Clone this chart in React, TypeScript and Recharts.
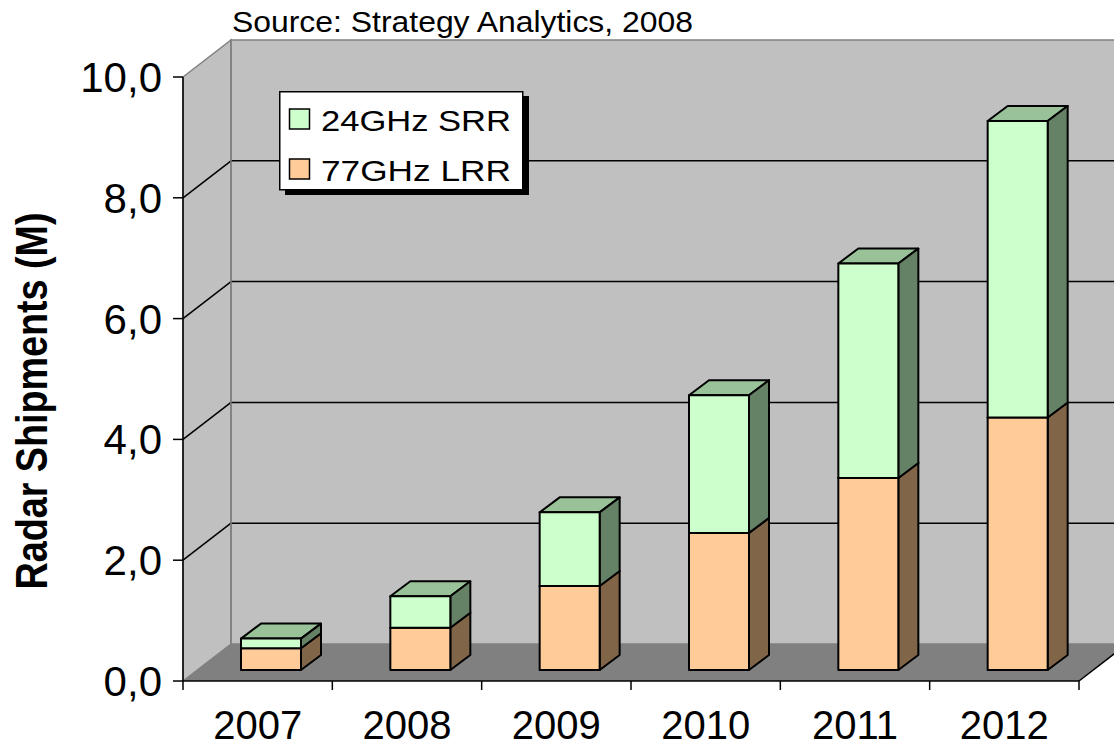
import * as R from 'recharts';
import { BarChart, Bar, XAxis, YAxis, Legend } from 'recharts';

const YEARS = ['2007', '2008', '2009', '2010', '2011', '2012'];
const LRR_77GHZ = [0.36, 0.7, 1.39, 2.27, 3.18, 4.18];
const SRR_24GHZ = [0.16, 0.52, 1.22, 2.28, 3.55, 4.91];
const Y_TICKS = [0, 2, 4, 6, 8, 10];

const SERIES = [
  { key: 'lrr', name: '77GHz LRR', front: '#ffcc99', top: '#cca37a', side: '#806548' },
  { key: 'srr', name: '24GHz SRR', front: '#ccffcc', top: '#99c299', side: '#668266' },
];

const data = YEARS.map((year, i) => ({ year, lrr: LRR_77GHZ[i], srr: SRR_24GHZ[i] }));

const FONT = '"Liberation Sans", Arial, Helvetica, sans-serif';
const W = 1114;
const H = 749;
const MARGIN = { top: 77, right: 35, bottom: 0, left: 0 };
const Y_AXIS_W = 183;
const X_AXIS_H = 68;

// fake 3d: back wall shifted up-right, bars sit a bit behind the front edge
const WALL_DX = 48;
const WALL_DY = -37;
const BAR_DX = 13;
const BAR_DY = -11;
const BOX_DX = 20;
const BOX_DY = -15;

const FALLBACK_PLOT = {
  x: MARGIN.left + Y_AXIS_W,
  y: MARGIN.top,
  width: W - MARGIN.left - Y_AXIS_W - MARGIN.right,
  height: H - MARGIN.top - MARGIN.bottom - X_AXIS_H,
};

function usePlotBox() {
  const lib = R as any;
  if (lib.usePlotArea) return lib.usePlotArea() ?? FALLBACK_PLOT;
  return FALLBACK_PLOT;
}

const pts = (a: number[][]) => a.map((p) => p.join(',')).join(' ');

function Walls() {
  const { x, y, width: w, height: h } = usePlotBox();
  const y0 = y + h;
  const perUnit = h / (Y_TICKS[Y_TICKS.length - 1] - Y_TICKS[0]);
  const bx = x + WALL_DX;
  const by = y + WALL_DY;
  const band = w / YEARS.length;

  return (
    <g>
      <text x={bx + 1} y={by - 8} fontSize={29} fontFamily={FONT} fill="#000" textLength={461} lengthAdjust="spacingAndGlyphs">
        Source: Strategy Analytics, 2008
      </text>
      <text
        transform={`translate(${x - 136}, ${y + h / 2 + 22}) rotate(-90)`}
        textAnchor="middle"
        fontSize={44}
        fontWeight="bold"
        fontFamily={FONT}
        fill="#000"
        textLength={377}
        lengthAdjust="spacingAndGlyphs"
      >
        Radar Shipments (M)
      </text>

      {/* left wall, back wall, floor */}
      <polygon points={pts([[x, y], [bx, by], [bx, y0 + WALL_DY], [x, y0]])} fill="#c0c0c0" stroke="#808080" strokeWidth={1.5} />
      <rect x={bx} y={by} width={w + 60} height={h} fill="#c0c0c0" stroke="#808080" strokeWidth={1.5} />
      <polygon points={pts([[x, y0], [x + w, y0], [x + w + WALL_DX, y0 + WALL_DY], [bx, y0 + WALL_DY]])} fill="#808080" />

      {Y_TICKS.slice(1, -1).map((t) => {
        const ty = y0 - t * perUnit;
        return (
          <g key={t} stroke="#000" strokeWidth={1.5}>
            <line x1={x} y1={ty} x2={bx} y2={ty + WALL_DY} />
            <line x1={bx} y1={ty + WALL_DY} x2={x + w + 100} y2={ty + WALL_DY} />
          </g>
        );
      })}
      <line x1={bx} y1={by} x2={bx} y2={y0 + WALL_DY} stroke="#808080" strokeWidth={1.5} />
      <line x1={x + w} y1={y0} x2={x + w + WALL_DX} y2={y0 + WALL_DY} stroke="#000" strokeWidth={1.5} />

      {YEARS.map((_, i) => (
        <line key={i} x1={x + i * band} y1={y0} x2={x + i * band} y2={y0 + 9} stroke="#000" strokeWidth={1.5} />
      ))}
      <line x1={x + w} y1={y0} x2={x + w} y2={y0 + 9} stroke="#000" strokeWidth={1.5} />
    </g>
  );
}

function Box3D(props: any) {
  const { x, y, width, height, c } = props;
  if (height == null || isNaN(height)) return null;
  const L = x + BAR_DX;
  const Rx = x + width + BAR_DX;
  const T = y + BAR_DY;
  const B = y + height + BAR_DY;
  return (
    <g stroke="#000" strokeWidth={2} strokeLinejoin="round">
      <polygon points={pts([[L, T], [Rx, T], [Rx + BOX_DX, T + BOX_DY], [L + BOX_DX, T + BOX_DY]])} fill={c.top} />
      <polygon points={pts([[Rx, T], [Rx + BOX_DX, T + BOX_DY], [Rx + BOX_DX, B + BOX_DY], [Rx, B]])} fill={c.side} />
      <rect x={L} y={T} width={width} height={height} fill={c.front} />
    </g>
  );
}

const YearTick = ({ x, y, payload }: any) => (
  <text x={x} y={y + 56} textAnchor="middle" fontSize={40} fontFamily={FONT} fill="#000">
    {payload.value}
  </text>
);

const LegendBox = () => (
  <svg width={252} height={106} style={{ display: 'block' }}>
    <rect x={6} y={5} width={244} height={99} fill="#000" />
    <rect x={0.75} y={0.75} width={243} height={98} fill="#fff" stroke="#000" strokeWidth={1.5} />
    {[...SERIES].reverse().map((s, i) => (
      <g key={s.key}>
        <rect x={10.5} y={18 + i * 50} width={20} height={20} fill={s.front} stroke="#000" strokeWidth={1.5} />
        <text x={42} y={40 + i * 50} fontSize={30} fontFamily={FONT} fill="#000" textLength={190} lengthAdjust="spacingAndGlyphs">
          {s.name}
        </text>
      </g>
    ))}
  </svg>
);

export default function App() {
  return (
    <div style={{ position: 'absolute', left: 0, top: 0, background: '#fff' }}>
      <BarChart width={W} height={H} data={data} margin={MARGIN}>
        <Walls />
        <XAxis
          dataKey="year"
          height={X_AXIS_H}
          interval={0}
          tickSize={0}
          tickLine={false}
          axisLine={{ stroke: '#000', strokeWidth: 1.5 }}
          tick={<YearTick />}
        />
        <YAxis
          width={Y_AXIS_W}
          domain={[0, 10]}
          ticks={Y_TICKS}
          interval={0}
          tickFormatter={(v: number) => v.toFixed(1).replace('.', ',')}
          tickSize={10}
          tickMargin={11}
          tick={{ fill: '#000', fontSize: 42, fontFamily: FONT }}
          tickLine={{ stroke: '#000', strokeWidth: 1.5 }}
          axisLine={{ stroke: '#000', strokeWidth: 1.5 }}
        />
        <Legend
          layout="vertical"
          align="center"
          verticalAlign="middle"
          wrapperStyle={{ left: 279, top: 91, width: 252, height: 106 }}
          content={<LegendBox />}
        />
        {SERIES.map((s) => (
          <Bar
            key={s.key}
            dataKey={s.key}
            name={s.name}
            stackId="total"
            barSize={60}
            isAnimationActive={false}
            shape={(p: any) => <Box3D {...p} c={s} />}
          />
        ))}
      </BarChart>
    </div>
  );
}
